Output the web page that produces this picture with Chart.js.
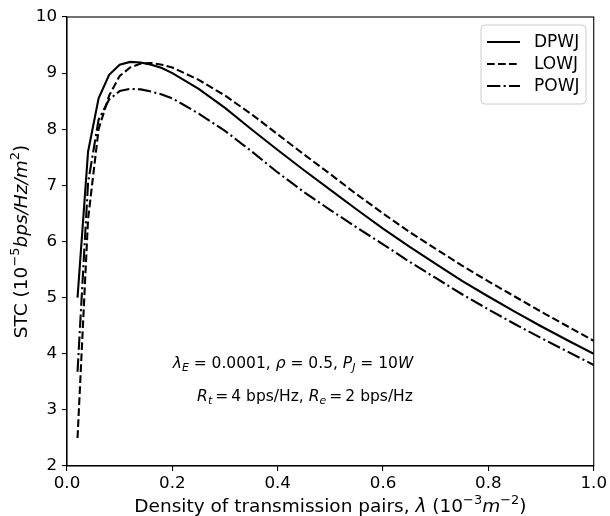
<!DOCTYPE html>
<html><head><meta charset="utf-8">
<script src="https://cdn.jsdelivr.net/npm/chart.js@4.4.1/dist/chart.umd.min.js"></script>
<style>html,body{margin:0;padding:0;background:#fff;}#wrap{width:610px;height:516px;}</style>
</head><body><div id="wrap"><canvas id="c" width="610" height="516"></canvas></div>
<script>
// ---- data ----
const densities = [0.02,0.04,0.06,0.08,0.10,0.12,0.14,0.16,0.18,0.20,0.25,0.30,0.35,0.40,0.45,0.50,0.55,0.60,0.65,0.70,0.75,0.80,0.85,0.90,0.95,1.00];
const dpwj = [5.0,7.6,8.55,8.97,9.15,9.2,9.19,9.15,9.09,9.0,8.72,8.38,8.0,7.63,7.27,6.92,6.57,6.23,5.91,5.6,5.3,5.02,4.75,4.49,4.24,4.0];
const lowj = [2.5,6.4,8.0,8.6,8.95,9.1,9.17,9.18,9.15,9.1,8.88,8.6,8.27,7.91,7.55,7.2,6.84,6.5,6.17,5.87,5.57,5.29,5.02,4.75,4.49,4.23];
const powj = [3.68,7.05,8.17,8.53,8.68,8.72,8.71,8.67,8.62,8.55,8.28,7.97,7.61,7.23,6.88,6.56,6.25,5.95,5.64,5.35,5.06,4.79,4.53,4.28,4.04,3.8];
const seriesNames = ['DPWJ','LOWJ','POWJ'];
const xTicks = [0.0,0.2,0.4,0.6,0.8,1.0];
const yTicks = [2,3,4,5,6,7,8,9,10];

const FONT = "'DejaVu Sans'";
const toPts = ys => ys.map((y,i)=>({x:densities[i], y}));

// rich text: segments [text, kind]; kind: n, i, sup, supi, sub, subi
function fontFor(k,size){
  const small = k.startsWith('sup')||k.startsWith('sub');
  const it = k==='i'||k.endsWith('i');
  return (it?'oblique ':'')+(small?size*0.7:size)+'px '+FONT;
}
function richWidth(ctx, segs, size){
  let w=0;
  for(const [t,k] of segs){ ctx.font = fontFor(k,size); w += ctx.measureText(t).width; }
  return w;
}
function drawRich(ctx, segs, cx, cy, size){
  const w = richWidth(ctx, segs, size);
  let x = cx - w/2;
  const base = cy + size*0.36;
  ctx.textAlign='left'; ctx.textBaseline='alphabetic'; ctx.fillStyle='#000';
  for(const [t,k] of segs){
    const sup = k.startsWith('sup'), sub = k.startsWith('sub');
    ctx.font = fontFor(k,size);
    const y = sup ? base - size*0.42 : sub ? base + size*0.2 : base;
    ctx.fillText(t, x, y);
    x += ctx.measureText(t).width;
  }
}

const xTitle = [['Density of transmission pairs, ','n'],['λ','i'],[' (10','n'],['−3','sup'],['m','i'],['−2','sup'],[')','n']];
const yTitle = [['STC (10','n'],['−5','sup'],['bps/Hz/m','i'],['2','sup'],[')','n']];
const note1 = [['λ','i'],['E','subi'],[' = 0.0001, ','n'],['ρ','i'],[' = 0.5, ','n'],['P','i'],['J','subi'],[' = 10','n'],['W','i']];
const note2 = [['R','i'],['t','subi'],['\u2009=\u20094 bps/Hz, ','n'],['R','i'],['e','subi'],['\u2009=\u20092 bps/Hz','n']];

const decor = {
  id:'decor',
  afterDraw(chart){
    const ctx = chart.ctx, a = chart.chartArea;
    ctx.save();
    ctx.strokeStyle='#000'; ctx.lineWidth=1.1;
    ctx.strokeRect(a.left, a.top, a.right-a.left, a.bottom-a.top);
    drawRich(ctx, xTitle, (a.left+a.right)/2, 505, 18.5);
    ctx.save(); ctx.translate(20,(a.top+a.bottom)/2); ctx.rotate(-Math.PI/2);
    drawRich(ctx, yTitle, 0, 0, 18.5); ctx.restore();
    drawRich(ctx, note1, 293, 362, 15.5);
    drawRich(ctx, note2, 305, 395, 15.5);
    // legend
    const lx=481, ly=25, lw=105, lh=79, r=4;
    ctx.beginPath();
    ctx.moveTo(lx+r,ly); ctx.lineTo(lx+lw-r,ly); ctx.quadraticCurveTo(lx+lw,ly,lx+lw,ly+r);
    ctx.lineTo(lx+lw,ly+lh-r); ctx.quadraticCurveTo(lx+lw,ly+lh,lx+lw-r,ly+lh);
    ctx.lineTo(lx+r,ly+lh); ctx.quadraticCurveTo(lx,ly+lh,lx,ly+lh-r);
    ctx.lineTo(lx,ly+r); ctx.quadraticCurveTo(lx,ly,lx+r,ly); ctx.closePath();
    ctx.fillStyle='rgba(255,255,255,0.8)'; ctx.fill();
    ctx.strokeStyle='#cccccc'; ctx.lineWidth=1; ctx.stroke();
    chart.data.datasets.forEach((ds,i)=>{
      const y = 42 + i*22;
      ctx.beginPath(); ctx.setLineDash(ds.borderDash||[]);
      ctx.strokeStyle='#000'; ctx.lineWidth=ds.borderWidth;
      ctx.moveTo(487,y); ctx.lineTo(520,y); ctx.stroke(); ctx.setLineDash([]);
      ctx.fillStyle='#000'; ctx.font='17px '+FONT; ctx.textAlign='left'; ctx.textBaseline='middle';
      ctx.fillText(ds.label, 534, y+1);
    });
    ctx.restore();
  }
};

new Chart(document.getElementById('c'), {
  type:'line',
  data:{datasets:[
    {label:seriesNames[0], data:toPts(dpwj), borderColor:'#000', borderWidth:2.1, borderDash:[], pointRadius:0, tension:0, fill:false},
    {label:seriesNames[1], data:toPts(lowj), borderColor:'#000', borderWidth:2.1, borderDash:[7.7,3.3], pointRadius:0, tension:0, fill:false},
    {label:seriesNames[2], data:toPts(powj), borderColor:'#000', borderWidth:2.1, borderDash:[13.3,3.3,2.1,3.3], pointRadius:0, tension:0, fill:false}
  ]},
  options:{
    responsive:false, animation:false, devicePixelRatio:1,
    layout:{padding:{left:0,right:16,top:17,bottom:0}},
    plugins:{legend:{display:false}, tooltip:{enabled:false}},
    scales:{
      x:{type:'linear', min:0, max:1,
        afterBuildTicks(s){ s.ticks = xTicks.map(v=>({value:v})); },
        afterFit(s){ s.height = 50; },
        ticks:{callback:v=>Number(v).toFixed(1), color:'#000', font:{family:FONT,size:16.7}, padding:3, maxRotation:0, autoSkip:false},
        grid:{drawOnChartArea:false, drawTicks:true, tickLength:5, color:'#000', lineWidth:1.1},
        border:{display:true, color:'#000', width:1.1}
      },
      y:{type:'linear', min:2, max:10,
        afterBuildTicks(s){ s.ticks = yTicks.map(v=>({value:v})); },
        afterFit(s){ s.width = 67; },
        ticks:{callback:v=>String(v), color:'#000', font:{family:FONT,size:16.7}, padding:5, autoSkip:false},
        grid:{drawOnChartArea:false, drawTicks:true, tickLength:5, color:'#000', lineWidth:1.1},
        border:{display:true, color:'#000', width:1.1}
      }
    }
  },
  plugins:[decor]
});
</script></body></html>
